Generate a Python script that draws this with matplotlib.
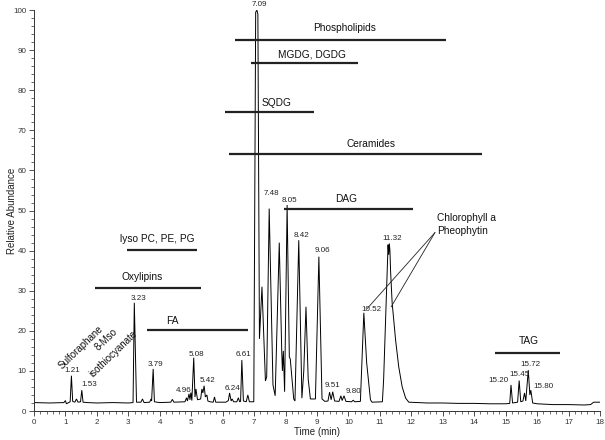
import matplotlib
matplotlib.use("Agg")
import matplotlib.pyplot as plt
from matplotlib.ticker import MultipleLocator

# ---------------- data ----------------
trace_time = [
    0.0, 0.5, 0.95, 1.0, 1.03, 1.1, 1.15, 1.19, 1.23, 1.3, 1.35, 1.4, 1.48, 1.52, 1.56,
    1.7, 2.0, 2.5, 3.0, 3.15, 3.19, 3.26, 3.4, 3.45, 3.5, 3.68, 3.72, 3.74, 3.79, 3.83,
    4.0, 4.35, 4.4, 4.45, 4.8, 4.85, 4.88, 4.93, 4.96, 4.99, 5.02, 5.08, 5.12, 5.15, 5.2,
    5.3, 5.34, 5.37, 5.41, 5.45, 5.5, 5.53, 5.6, 5.7, 5.74, 5.78, 6.1, 6.18, 6.22, 6.27,
    6.3, 6.35, 6.45, 6.5, 6.54, 6.57, 6.61, 6.66, 6.75, 6.8, 6.85, 6.99, 7.05, 7.09, 7.12,
    7.17, 7.25, 7.36, 7.4, 7.48, 7.6, 7.67, 7.8, 7.88, 7.9, 7.93, 7.97, 8.05, 8.12, 8.15,
    8.26, 8.3, 8.42, 8.52, 8.58, 8.65, 8.72, 8.79, 8.95, 9.06, 9.16, 9.25, 9.35, 9.4, 9.45,
    9.5, 9.56, 9.7, 9.76, 9.8, 9.86, 9.92, 10.1, 10.15, 10.2, 10.38, 10.49, 10.58, 10.7,
    10.75, 11.08, 11.12, 11.26, 11.28, 11.3, 11.32, 11.34, 11.39, 11.5, 11.6, 11.71, 11.82,
    11.92, 12.5, 13.0, 13.5, 14.0, 14.5, 15.0, 15.13, 15.17, 15.22, 15.38, 15.43, 15.48,
    15.55, 15.6, 15.64, 15.72, 15.77, 15.8, 15.86, 16.0, 16.5, 17.0, 17.5, 17.7, 17.8, 18.0,
]
trace_abundance = [
    2.1, 2.0, 2.1, 2.6, 1.8, 2.1, 2.3, 8.8, 2.4, 2.2, 3.0, 2.2, 2.3, 5.2, 2.2,
    2.1, 2.0, 2.1, 2.0, 2.1, 27.0, 2.2, 2.2, 3.0, 2.1, 2.2, 3.0, 2.5, 10.5, 2.3,
    2.1, 2.2, 2.9, 2.2, 2.3, 3.3, 2.5, 4.3, 2.8, 4.6, 2.6, 13.3, 3.5, 5.5, 2.8,
    3.0, 5.5, 4.5, 6.3, 3.5, 4.0, 2.5, 2.3, 2.2, 3.5, 2.2, 2.2, 2.6, 4.5, 2.5,
    3.0, 2.3, 2.3, 3.3, 2.3, 2.4, 12.7, 2.5, 2.3, 4.0, 2.3, 2.3, 99.5, 100.0, 99.0,
    18.0, 31.0, 7.5, 8.5, 50.5, 6.5, 3.8, 42.0, 14.5, 10.0, 15.0, 4.8, 51.4, 13.5, 13.0,
    3.0, 2.5, 42.6, 3.2, 10.0, 26.0, 8.0, 3.0, 3.0, 38.5, 3.0, 2.4, 2.5, 4.7, 2.8,
    4.8, 2.5, 2.4, 3.8, 2.6, 3.8, 2.4, 2.3, 2.7, 2.3, 2.4, 24.5, 12.0, 2.8,
    2.2, 2.3, 8.0, 41.5, 39.0, 41.8, 40.0, 35.0, 27.0, 17.7, 11.0, 6.0, 3.2,
    2.2, 2.0, 2.0, 1.9, 1.9, 1.8, 1.8, 1.9, 6.5, 2.0, 2.2, 7.6, 2.3,
    2.5, 4.5, 2.5, 10.2, 4.0, 5.2, 2.0, 1.8, 1.6, 1.6, 1.5, 1.6, 2.2, 2.2,
]

# peak retention-time labels: text, x, y
peak_labels = ["1.21", "1.53", "3.23", "3.79", "4.96", "5.08", "5.42", "6.24", "6.61",
               "7.09", "7.48", "8.05", "8.42", "9.06", "9.51", "9.80", "10.52", "11.32",
               "15.20", "15.45", "15.72", "15.80"]
peak_label_x = [1.23, 1.76, 3.32, 3.85, 4.76, 5.18, 5.52, 6.32, 6.66,
                7.17, 7.55, 8.13, 8.50, 9.16, 9.50, 10.15, 10.72, 11.38,
                14.78, 15.45, 15.80, 16.19]
peak_label_y = [10.0, 6.5, 28.1, 11.5, 5.2, 14.2, 7.6, 5.5, 14.0,
                101.3, 54.3, 52.6, 43.9, 40.0, 6.3, 4.9, 25.3, 43.0,
                7.6, 9.0, 11.6, 6.0]

# compound-class ranges: name, start, end, line level, text x, text y
class_names = ["Phospholipids", "MGDG, DGDG", "SQDG", "Ceramides", "DAG",
               "lyso PC, PE, PG", "Oxylipins", "FA", "TAG"]
class_start = [6.40, 6.91, 6.08, 6.21, 7.94, 2.96, 1.94, 3.59, 14.66]
class_end = [13.09, 10.29, 8.92, 14.24, 12.06, 5.19, 5.31, 6.79, 16.72]
class_level = [92.5, 86.8, 74.6, 64.1, 50.4, 40.1, 30.8, 20.2, 14.5]
class_text_x = [9.87, 8.83, 7.70, 10.73, 9.93, 3.93, 3.43, 4.40, 15.74]
class_text_y = [95.5, 89.0, 76.9, 66.7, 53.0, 43.0, 33.4, 22.5, 17.4]

# rotated labels for early compounds
rot_names = ["Sulforaphane", "8-Mso", "isothiocyanate"]
rot_x = [1.50, 2.30, 2.53]
rot_y = [15.8, 17.8, 14.2]

# chlorophyll / pheophytin callout
callout_lines = ["Chlorophyll a", "Pheophytin"]
callout_text_x = 12.82
callout_text_y = [48.2, 44.8]
callout_origin = (12.75, 44.5)
callout_targets_x = [10.60, 11.36]
callout_targets_y = [25.6, 26.0]

# ---------------- drawing ----------------
fig = plt.figure(figsize=(6.05, 4.40), dpi=100)
ax = fig.add_axes([0.0562, 0.0659, 0.9355, 0.911])

ax.plot(trace_time, trace_abundance, color="black", lw=0.7, solid_joinstyle="miter")

ax.set_xlim(0, 18)
ax.set_ylim(0, 100)
ax.xaxis.set_major_locator(MultipleLocator(1))
ax.xaxis.set_minor_locator(MultipleLocator(0.2))
ax.yaxis.set_major_locator(MultipleLocator(10))
ax.yaxis.set_minor_locator(MultipleLocator(2))
for s in ("top", "right"):
    ax.spines[s].set_visible(False)
for s in ("left", "bottom"):
    ax.spines[s].set_linewidth(0.7)
    ax.spines[s].set_color("#333333")

tickfont = "Liberation Sans"
ax.tick_params(axis="both", which="major", length=3.5, width=0.6, colors="#333333",
               labelsize=5.8, pad=2)
ax.tick_params(axis="both", which="minor", length=2, width=0.5, colors="#333333")
for lab in ax.get_xticklabels() + ax.get_yticklabels():
    lab.set_fontfamily(tickfont)

ax.set_xlabel("Time (min)", fontsize=7, family=tickfont, labelpad=1, color="#222222")
ax.set_ylabel("Relative Abundance", fontsize=7, family=tickfont, color="#222222")
ax.yaxis.set_label_coords(-0.030, 0.5)

for txt, x, y in zip(peak_labels, peak_label_x, peak_label_y):
    ax.text(x, y, txt, fontsize=5.8, family=tickfont, ha="center", va="center",
            color="#222222", clip_on=False)

for name, x0, x1, lvl, tx, ty in zip(class_names, class_start, class_end, class_level,
                                     class_text_x, class_text_y):
    ax.plot([x0, x1], [lvl, lvl], color="#222222", lw=1.6, solid_capstyle="butt")
    ax.text(tx, ty, name, fontsize=7.3, family="Liberation Sans", ha="center",
            va="center", color="#111111")

for name, x, y in zip(rot_names, rot_x, rot_y):
    ax.text(x, y, name, fontsize=7.0, family="Liberation Sans", ha="center",
            va="center", rotation=44, rotation_mode="anchor", color="#111111")

for tx, ty in zip(callout_targets_x, callout_targets_y):
    ax.plot([callout_origin[0], tx], [callout_origin[1], ty], color="#222222", lw=0.6)
for line, ty in zip(callout_lines, callout_text_y):
    ax.text(callout_text_x, ty, line, fontsize=7.3, family="Liberation Sans",
            ha="left", va="center", color="#111111")

fig.savefig("out.png", dpi=100)
